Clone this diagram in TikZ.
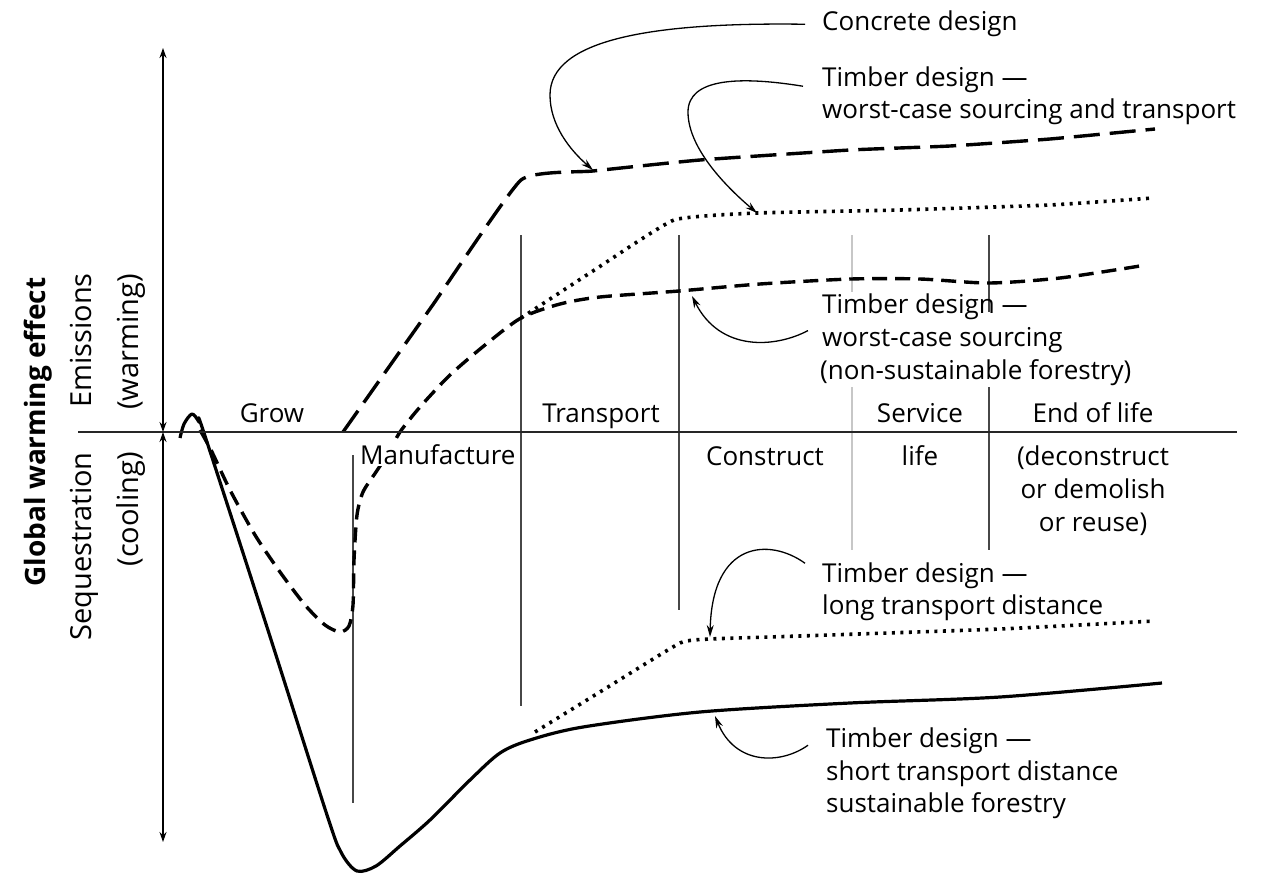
\documentclass[tikz,border=0pt]{standalone}
\usepackage{fontspec}
\setmainfont{Open Sans}
\usetikzlibrary{arrows.meta}
\begin{document}
\begin{tikzpicture}[x=1pt,y=-1pt,
  lbl/.style={font=\fontsize{26}{32}\selectfont, inner sep=0pt},
  vlab/.style={font=\fontsize{29}{34}\selectfont, inner sep=0pt, rotate=90},
  gwlab/.style={font=\bfseries\fontsize{28}{34}\selectfont, inner sep=0pt, rotate=90},
  callout/.style={line width=1.3pt, -{Stealth[length=12pt,width=7pt]}},
  divider/.style={line width=1.6pt, draw=black!72},
  graydivider/.style={line width=2pt, draw=black!22},
  axisline/.style={line width=2.6pt, draw=black!85},
  vaxis/.style={line width=1.3pt, {Stealth[length=10pt,width=7pt]}-{Stealth[length=10pt,width=7pt]}},
  concreteline/.style={line width=3.4pt, dash pattern=on 26pt off 10pt},
  timberdash/.style={line width=3.4pt, dash pattern=on 15pt off 8pt},
  timberdot/.style={line width=3.6pt, dash pattern=on 3pt off 5.5pt},
  timbersolid/.style={line width=3.2pt, line join=round}
]
\useasboundingbox (0,0) rectangle (1261,875);

% ---- stage dividers
\draw[divider] (353,455) -- (353,803);
\draw[divider] (521,235) -- (521,706);
\draw[divider] (679,235) -- (679,610);
\draw[graydivider] (852,235) -- (852,292);
\draw[graydivider] (852,387) -- (852,550);
\draw[divider] (989,235) -- (989,312);
\draw[divider] (989,387) -- (989,550);

% ---- curves
% concrete design
\draw[concreteline] plot[smooth, tension=0.25] coordinates
  {(343,432) (432,306) (521,180) (593,171) (700,160) (850,150) (950,146) (1050,139) (1155,129)};
% timber worst-case sourcing and transport
\draw[timberdot] plot[smooth, tension=0.25] coordinates
  {(521,318) (596,269) (674,220) (757,213) (900,210) (1050,205) (1153,198)};
% timber worst-case sourcing
\draw[timberdash] plot[smooth, tension=0.45] coordinates
  {(200,430) (212,452) (230,490) (255,535) (280,572) (305,605) (325,625) (340,632)
   (349,626) (353,605) (354,560) (357,515) (363,492) (376,472) (389,452) (400,432)
   (420,407) (450,375) (485,345) (521,318) (560,304) (600,297) (679,291) (760,284)
   (851,279) (920,279) (989,283) (1060,278) (1140,266)};
% timber long transport distance
\draw[timberdot] plot[smooth, tension=0.25] coordinates
  {(535,732) (608,687) (680,643) (710,639) (800,636) (1000,629) (1155,621)};
% timber short transport, sustainable forestry
\draw[timbersolid] plot[smooth, tension=0.5] coordinates
  {(180,438) (184,424) (192,414) (199,422) (204,433) (266,624) (328,818)
   (342,854) (357,871) (376,866) (400,846) (430,820) (470,780) (500,753)
   (530,740) (583,727) (700,712) (850,703) (1000,697) (1162,683)};

% ---- main axes
\draw[axisline] (78,432) -- (1237,432);
\coordinate (vtop) at (163,48);
\coordinate (vmid) at (163,432);
\coordinate (vbot) at (163,842);
\draw[vaxis] (vtop) -- (vmid);
\draw[vaxis] (vmid) -- (vbot);

% ---- vertical labels
\node[gwlab, anchor=base] (gwe) at (45,432) {Global warming effect};
\node[vlab, anchor=base west] (emis) at (91,408) {Emissions};
\node[vlab, anchor=base west] (warm) at (138,410) {(warming)};
\node[vlab, anchor=base east] (seq) at (91,452) {Sequestration};
\node[vlab, anchor=base east] (cool) at (138,452) {(cooling)};

% ---- stage labels
\node[lbl, anchor=base] (grow) at (272,422) {Grow};
\node[lbl, anchor=base] (transp) at (601,422) {Transport};
\node[lbl, anchor=base] (service) at (920,422) {Service};
\node[lbl, anchor=base] (eol) at (1093,422) {End of life};
\node[lbl, anchor=base west, fill=white, inner sep=2pt] (manuf) at (358,464) {Manufacture};
\node[lbl, anchor=base] (construct) at (765,465) {Construct};
\node[lbl, anchor=base] (life) at (920,465) {life};
\node[lbl, anchor=base] (eolA) at (1093,465) {(deconstruct};
\node[lbl, anchor=base] (eolB) at (1093,498) {or demolish};
\node[lbl, anchor=base] (eolC) at (1093,531) {or reuse)};

% ---- curve labels
\node[lbl, anchor=base west] (cd) at (822,31) {Concrete design};
\node[lbl, anchor=base west] (wtA) at (822,86) {Timber design —};
\node[lbl, anchor=base west] (wtB) at (822,118) {worst-case sourcing and transport};
\node[lbl, anchor=base west] (wsA) at (822,313) {Timber design —};
\node[lbl, anchor=base west] (wsB) at (822,346) {worst-case sourcing};
\node[lbl, anchor=base west] (wsC) at (820,379) {(non-sustainable forestry)};
\node[lbl, anchor=base west] (ltA) at (822,582) {Timber design —};
\node[lbl, anchor=base west] (ltB) at (822,614) {long transport distance};
\node[lbl, anchor=base west] (stA) at (826,747) {Timber design —};
\node[lbl, anchor=base west] (stB) at (826,780) {short transport distance};
\node[lbl, anchor=base west] (stC) at (826,812) {sustainable forestry};

% ---- callouts
\coordinate (tipA) at (593,170);
\coordinate (tipB) at (757,213);
\coordinate (tipC) at (692,296);
\coordinate (tipD) at (710,637);
\coordinate (tipE) at (715,716);
\draw[callout] ([xshift=-17pt]cd.west) .. controls (650,22) and (550,40) .. (550,95)
  .. controls (550,125) and (570,150) .. (tipA);
\draw[callout] ([xshift=-19pt,yshift=-7pt]wtA.west) .. controls (740,76) and (688,78) .. (688,112)
  .. controls (688,150) and (730,190) .. (tipB);
\draw[callout] ([xshift=-14pt,yshift=9pt]wsB.west) .. controls (775,348) and (720,352) .. (tipC);
\draw[callout] ([xshift=-17pt,yshift=12pt]ltA.west) .. controls (770,538) and (712,540) .. (tipD);
\draw[callout] ([xshift=-18pt,yshift=-5pt]stA.west) .. controls (780,765) and (735,765) .. (tipE);
\end{tikzpicture}
\end{document}
